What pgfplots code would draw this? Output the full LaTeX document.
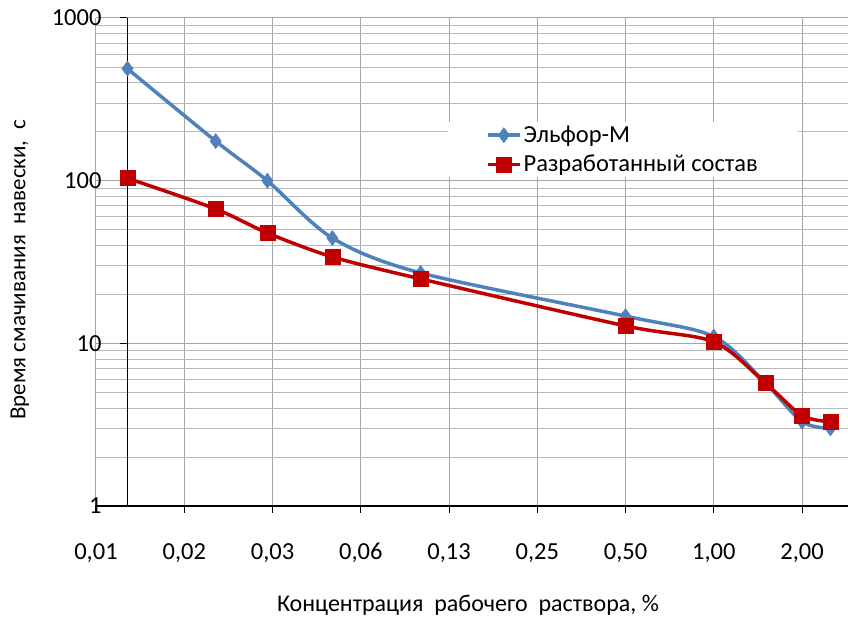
\documentclass[border=0pt]{standalone}
\usepackage{fontspec}
\setmainfont{Carlito}
\usepackage{pgfplots}
\pgfplotsset{compat=1.18}
\definecolor{xlblue}{RGB}{79,129,189}
\definecolor{xlred}{RGB}{192,0,0}
\newcommand{\fs}{\fontsize{24.5}{29}\selectfont}
\newcommand{\fl}{\fontsize{24}{29}\selectfont}
\newcommand{\fy}{\fontsize{23}{28}\selectfont}
\begin{document}
\begin{tikzpicture}
\useasboundingbox (0,0) rectangle (848pt,621pt);
\begin{axis}[
  at={(96pt,115pt)}, anchor=south west,
  scale only axis, width=752pt, height=488pt,
  xmode=log, log basis x=2, ymode=log,
  xmin=0.0078125, xmax=2.87, ymin=1, ymax=1000,
  axis x line*=bottom, axis y line*=left,
  x axis line style={black, line width=1.5pt, -},
  y axis line style={draw=none},
  xtick={0.0078125,0.015625,0.03125,0.0625,0.125,0.25,0.5,1,2},
  xticklabels={{0,01},{0,02},{0,03},{0,06},{0,13},{0,25},{0,50},{1,00},{2,00}},
  ytick={1,10,100,1000},
  yticklabels={1,10,100,1000},
  xminorticks=false,
  tick align=outside, major tick length=7pt, minor tick length=0pt,
  xtick style={black, line width=1pt},
  ytick style={draw=none},
  xmajorgrids, ymajorgrids, yminorgrids,
  major grid style={gray!70, line width=1pt},
  minor grid style={gray!55, line width=0.9pt},
  /pgf/number format/assume math mode=true,
  xticklabel style={font=\fs, anchor=base, yshift=-47pt},
  yticklabel style={font=\fs, xshift=16pt},
  extra x ticks={0.01},
  extra x tick labels={},
  extra x tick style={grid=major, major grid style={black, line width=1.5pt}, tick style={draw=none}},
  xlabel={Концентрация\ \ рабочего\ \ раствора, \%},
  ylabel={Время смачивания\ \ навески,\ \ с},
  xlabel style={font=\fl, at={(axis description cs:0.4947,-0.203)}, anchor=center},
  ylabel style={font=\fy, at={(axis description cs:-0.1011,0.4836)}, anchor=center},
  legend style={at={(axis description cs:0.468,0.787)}, anchor=north west,
    draw=none, fill=white, font=\fs, inner xsep=38pt, inner ysep=2pt,
    row sep=7pt, nodes={inner sep=2pt}, cells={anchor=west}},
  legend image code/.code={\draw[mark repeat=2,mark phase=2,#1] plot coordinates {(0pt,0pt) (16pt,0pt) (32pt,0pt)};},
]
\addplot[xlblue, line width=3.5pt, smooth, tension=0.5, mark=diamond*, mark size=7.5pt, mark options={solid, line width=0.5pt}]
coordinates {(0.01,488) (0.02,175) (0.03,100) (0.05,44.4) (0.1,27.1) (0.5,14.7) (1,11.0) (1.5,5.7) (2,3.3) (2.5,3.0)};
\addlegendentry{Эльфор-М}
\addplot[xlred, line width=3.5pt, smooth, tension=0.5, mark=square*, mark size=7.5pt, mark options={solid, line width=0.5pt}]
coordinates {(0.01,103.5) (0.02,67) (0.03,47.7) (0.05,34) (0.1,24.9) (0.5,12.8) (1,10.2) (1.5,5.7) (2,3.6) (2.5,3.3)};
\addlegendentry{Разработанный состав}
\pgfplotsinvokeforeach{1,10,100,1000}{
  \draw[black, line width=1pt] (axis cs:0.01,#1) -- ++(-7pt,0pt);
}
\end{axis}
\end{tikzpicture}
\end{document}
